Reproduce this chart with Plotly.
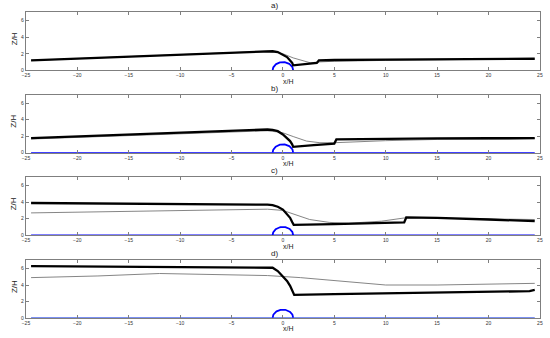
import numpy as np
import plotly.graph_objects as go

# free surface (thick black) and comparison profile (thin grey) per panel
a_x_black = [-24.5, -15, -5, -1.5, -1.0, -0.5, 0.0, 0.4, 0.7, 0.9, 1.0, 2.0, 3.3, 3.5, 5, 10, 15, 20, 24.5]
a_y_black = [1.2, 1.65, 2.13, 2.3, 2.3, 2.2, 1.9, 1.6, 1.2, 0.9, 0.6, 0.75, 0.9, 1.2, 1.25, 1.3, 1.35, 1.38, 1.4]
a_x_grey = [-24.5, -15, -5, -1.5, -0.5, 0, 1, 2, 2.7, 3.3, 5, 10, 15, 20, 24.5]
a_y_grey = [1.2, 1.65, 2.13, 2.3, 2.15, 2.0, 1.5, 1.1, 0.9, 1.0, 1.1, 1.2, 1.3, 1.35, 1.38]

b_x_black = [-24.5, -15, -5, -1.5, -1.0, -0.5, 0, 0.4, 0.7, 0.9, 1.0, 3, 5.0, 5.2, 10, 15, 20, 24.5]
b_y_black = [1.75, 2.2, 2.65, 2.8, 2.75, 2.6, 2.2, 1.8, 1.4, 1.0, 0.7, 0.9, 1.1, 1.6, 1.7, 1.72, 1.74, 1.75]
b_x_grey = [-24.5, -15, -5, -1.5, -0.5, 0, 1, 2.3, 3.6, 5, 10, 15, 20, 24.5]
b_y_grey = [1.65, 2.1, 2.5, 2.65, 2.5, 2.4, 1.95, 1.4, 1.2, 1.2, 1.45, 1.6, 1.65, 1.7]

c_x_black = [-24.5, -15, -5, -1.5, -1.0, -0.5, 0, 0.4, 0.7, 0.9, 1.05, 5, 11.8, 12.0, 15, 20, 24.5]
c_y_black = [3.9, 3.85, 3.75, 3.7, 3.65, 3.45, 3.1, 2.6, 2.1, 1.6, 1.25, 1.35, 1.55, 2.15, 2.1, 1.9, 1.7]
c_x_grey = [-24.5, -15, -5, -1.5, 0, 1, 2.6, 4.5, 6.4, 9.6, 11.8, 12.0, 15, 20, 24.5]
c_y_grey = [2.7, 2.9, 3.1, 3.15, 3.0, 2.6, 1.9, 1.55, 1.45, 1.7, 2.05, 2.12, 2.05, 1.95, 1.9]

d_x_black = [-24.5, -15, -5, -1.5, -1.0, -0.5, 0, 0.4, 0.7, 0.9, 1.1, 5, 10, 15, 20, 24.0, 24.5]
d_y_black = [6.3, 6.25, 6.2, 6.15, 6.1, 5.7, 5.1, 4.5, 3.9, 3.3, 2.8, 2.9, 3.0, 3.05, 3.15, 3.25, 3.4]
d_x_grey = [-24.5, -18, -12, -5, -1.5, 1.7, 6.4, 10, 15, 20, 24.5]
d_y_grey = [4.9, 5.1, 5.4, 5.25, 5.15, 4.9, 4.35, 4.0, 4.0, 4.1, 4.2]

panel_labels = ["a)", "b)", "c)", "d)"]
bed_shown = [False, True, True, True]
bed_x = [-24.5, 24.5]
bed_y = [0, 0]
cyl_radius = 1.0
x_ticks = [-25, -20, -15, -10, -5, 0, 5, 10, 15, 20, 25]
y_ticks = [0, 2, 4, 6]

panels = [
    (a_x_black, a_y_black, a_x_grey, a_y_grey),
    (b_x_black, b_y_black, b_x_grey, b_y_grey),
    (c_x_black, c_y_black, c_x_grey, c_y_grey),
    (d_x_black, d_y_black, d_x_grey, d_y_grey),
]

W, H = 550, 338
# pixel boxes (top, bottom) of each panel
boxes = [(12.3, 71.0), (95.7, 154.0), (179.0, 237.3), (262.7, 320.7)]
xdom = [22 / W, 543 / W]

theta = np.linspace(0, np.pi, 60)
cyl_x = cyl_radius * np.cos(theta)
cyl_y = cyl_radius * np.sin(theta)

fig = go.Figure()
font = "Liberation Sans, Arial, sans-serif"
annotations = []

for i, (xb, yb, xg, yg) in enumerate(panels):
    n = "" if i == 0 else str(i + 1)
    xa, ya = "x" + n, "y" + n
    top, bot = boxes[i]
    ydom = [1 - bot / H, 1 - top / H]

    if bed_shown[i]:
        fig.add_trace(go.Scatter(x=bed_x, y=bed_y, mode="lines", xaxis=xa, yaxis=ya,
                                 line=dict(color="#0000ff" if i < 3 else "#4f6bef", width=1.5)))
    fig.add_trace(go.Scatter(x=cyl_x, y=cyl_y, mode="lines", xaxis=xa, yaxis=ya,
                             line=dict(color="#0000ff", width=1.8)))
    fig.add_trace(go.Scatter(x=xg, y=yg, mode="lines", xaxis=xa, yaxis=ya,
                             line=dict(color="#777777", width=0.9)))
    fig.add_trace(go.Scatter(x=xb, y=yb, mode="lines", xaxis=xa, yaxis=ya,
                             line=dict(color="#000000", width=2.3)))

    axis_common = dict(showline=True, linecolor="#7f7f7f", linewidth=1, mirror="allticks",
                       ticks="inside", ticklen=3, tickcolor="#7f7f7f", showgrid=False,
                       zeroline=False, ticklabeloverflow="allow",
                       tickfont=dict(size=5, color="#333", family=font))
    fig.layout["xaxis" + n] = dict(domain=xdom, range=[-25.02, 25.02], tickvals=x_ticks,
                                   anchor=ya, **axis_common)
    fig.layout["yaxis" + n] = dict(domain=ydom, range=[0, 7], tickvals=y_ticks,
                                   anchor=xa, **axis_common)

    annotations.append(dict(text=panel_labels[i], x=274 / W, y=1 - (top - 6.5) / H,
                            xref="paper", yref="paper", showarrow=False, xanchor="center",
                            yanchor="middle", font=dict(size=8, family=font, color="#222")))
    annotations.append(dict(text="x/H", x=288 / W, y=1 - (bot + 11) / H,
                            xref="paper", yref="paper", showarrow=False, xanchor="center",
                            yanchor="middle", font=dict(size=7, family=font, color="#222")))
    annotations.append(dict(text="Z/H", x=10 / W, y=1 - (top + 0.45 * (bot - top)) / H,
                            xref="paper", yref="paper", showarrow=False, textangle=-90,
                            xanchor="center", yanchor="middle",
                            font=dict(size=8, family=font, color="#222")))

fig.update_layout(width=W, height=H, margin=dict(l=0, r=0, t=0, b=0),
                  paper_bgcolor="white", plot_bgcolor="white", showlegend=False,
                  annotations=annotations)

# drop the default body margin so the figure sits at the page corner
fig.write_html("out.html", config={"displayModeBar": False},
               post_script="document.body.style.margin='0px';")
